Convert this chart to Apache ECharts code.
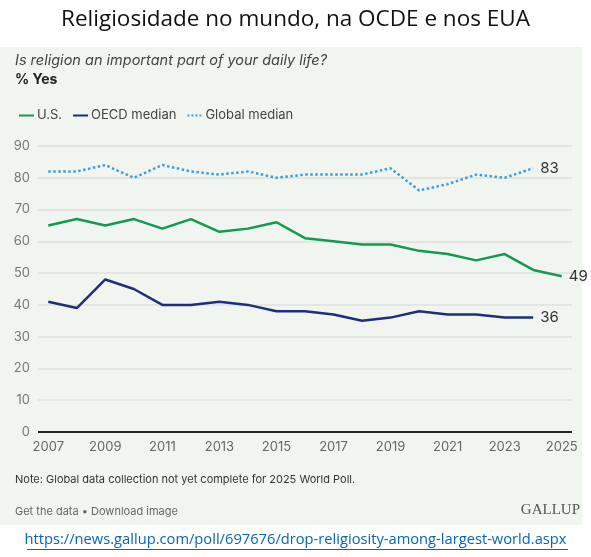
<!DOCTYPE html>
<html><head><meta charset="utf-8">
<script src="https://cdn.jsdelivr.net/npm/echarts@6/dist/echarts.min.js"></script>
<style>html,body{margin:0;padding:0;background:#fff}#c{width:591px;height:557px}</style>
</head><body><div id="c"></div>
<script>
var years = [2007,2008,2009,2010,2011,2012,2013,2014,2015,2016,2017,2018,2019,2020,2021,2022,2023,2024,2025];
var usValues = [65,67,65,67,64,67,63,64,66,61,60,59,59,57,56,54,56,51,49];
var oecdValues = [41,39,48,45,40,40,41,40,38,38,37,35,36,38,37,37,36,36];
var globalValues = [82,82,84,80,84,82,81,82,80,81,81,81,83,76,78,81,80,83];
var xTickLabels = [2007,2009,2011,2013,2015,2017,2019,2021,2023,2025];
var seriesNames = ['U.S.','OECD median','Global median'];

function pairs(vals){ return vals.map(function(v,i){ return [years[i], v]; }); }

var chart = echarts.init(document.getElementById('c'), null, {renderer:'canvas'});
var sans = 'Inter, Roboto, "Liberation Sans", sans-serif';
function endLbl(){ return {show:true, formatter:function(p){return p.value[1];}, color:'#333', fontSize:15, fontFamily:sans, distance:7}; }
chart.setOption({
  animation:false,
  backgroundColor:'#ffffff',
  graphic:[
    {type:'rect', z:-10, shape:{x:0,y:47,width:582,height:478}, style:{fill:'#f1f5f0'}},
    {type:'text', left:'center', top:8, style:{text:'Religiosidade no mundo, na OCDE e nos EUA', font:'22.5px "Open Sans", "Noto Sans", sans-serif', fill:'#111'}},
    {type:'text', left:15, top:53, style:{text:'Is religion an important part of your daily life?', font:'italic 14.5px '+sans, fill:'#444'}},
    {type:'text', left:15, top:73, style:{text:'% Yes', font:'bold 14px '+sans, fill:'#222'}},
    {type:'text', left:15, top:474, style:{text:'Note: Global data collection not yet complete for 2025 World Poll.', font:'11px '+sans, fill:'#333'}},
    {type:'text', left:15, top:506, style:{text:'Get the data \u2022 Download image', font:'11px '+sans, fill:'#666'}},
    {type:'text', right:11, top:503, style:{text:'GALLUP', font:'15px "Liberation Serif", "DejaVu Serif", serif', fill:'#555'}},
    {type:'text', left:'center', top:532, style:{text:'https://news.gallup.com/poll/697676/drop-religiosity-among-largest-world.aspx', font:'14.7px "Open Sans", "Noto Sans", sans-serif', fill:'#0563c1'}},
    {type:'rect', shape:{x:27,y:549,width:541,height:1}, style:{fill:'#0563c1'}}
  ],
  legend:{
    left:13, top:104, itemWidth:15, itemHeight:10, itemGap:10,
    itemStyle:{opacity:0},
    textStyle:{color:'#444', fontSize:13, fontFamily:sans, padding:[0,0,0,-2]},
    data:seriesNames
  },
  grid:{left:38, right:19, top:146, bottom:125, containLabel:false},
  xAxis:{
    type:'value', min:2006.64, max:2025.36,
    axisLine:{show:false}, axisTick:{show:false}, splitLine:{show:false},
    axisLabel:{customValues:xTickLabels, formatter:function(v){return String(v);}, color:'#666', fontSize:13, fontFamily:sans, margin:9}
  },
  yAxis:{
    type:'value', min:0, max:90, interval:10,
    axisLine:{show:false}, axisTick:{show:false},
    axisLabel:{color:'#777', fontSize:13, fontFamily:sans, margin:8},
    splitLine:{lineStyle:{color:'#dde2dc', width:1.5}}
  },
  series:[
    {name:seriesNames[0], type:'line', data:pairs(usValues), symbol:'none', color:'#119a50',
     lineStyle:{width:2.5, color:'#119a50'}, endLabel:endLbl(),
     markLine:{silent:true, symbol:'none', label:{show:false}, lineStyle:{color:'#222', width:2, type:'solid'}, data:[{yAxis:0}]}},
    {name:seriesNames[1], type:'line', data:pairs(oecdValues), symbol:'none', color:'#1d2f7c',
     lineStyle:{width:2.5, color:'#1d2f7c'}, endLabel:endLbl()},
    {name:seriesNames[2], type:'line', data:pairs(globalValues), symbol:'none', color:'#3a9fe0',
     lineStyle:{width:2.5, color:'#3a9fe0', type:'dotted'}, endLabel:endLbl()}
  ]
});
</script></body></html>
